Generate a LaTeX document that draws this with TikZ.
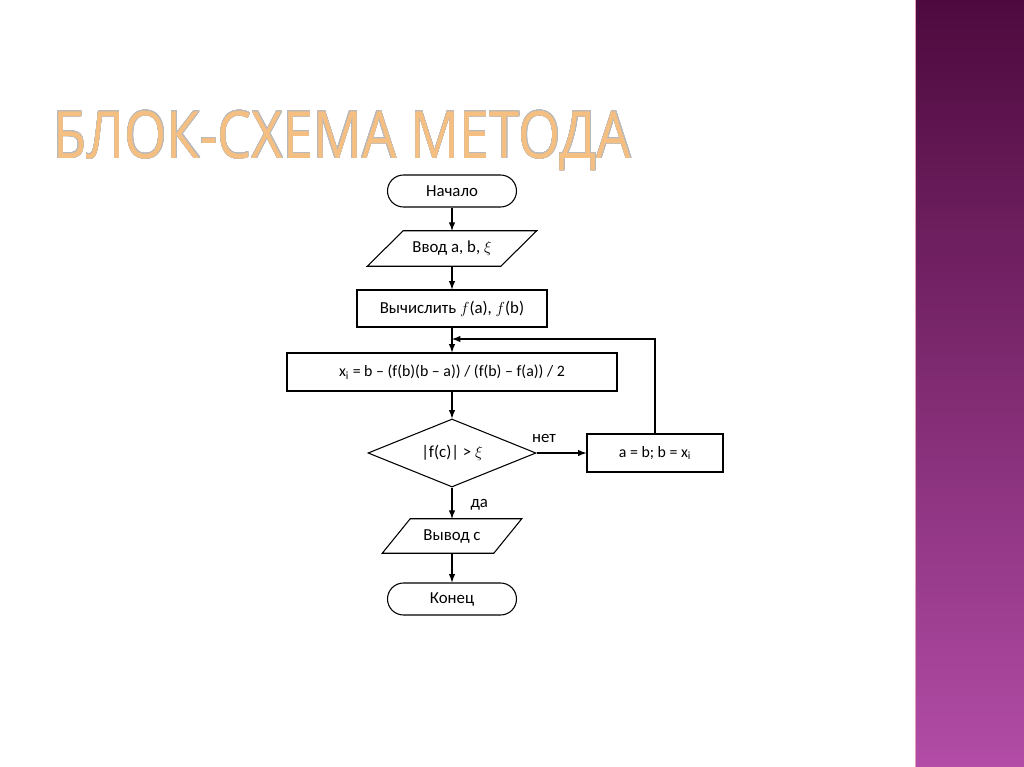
\documentclass[tikz,border=0pt]{standalone}
\usepackage{fontspec}
\setmainfont{Carlito}
\newfontfamily\titlefont[FakeStretch=0.83]{Open Sans}
\usepackage{contour}
\usetikzlibrary{arrows,shapes.geometric,shapes.misc,positioning}
\newcommand{\pxunit}{0.75pt}
\newcommand{\ioframe}[2]{%
  \draw[framesty] ([xshift=#2*\pxunit]#1.north west) -- ([xshift=#2*\pxunit]#1.north east)
    -- ([xshift=-#2*\pxunit]#1.south east) -- ([xshift=-#2*\pxunit]#1.south west) -- cycle;}
\tikzset{
    framesty/.style={line width=0.8pt},
    termsty/.style={draw,framesty,rounded rectangle,minimum width=129*\pxunit,minimum height=32*\pxunit,inner sep=0pt},
    procsty/.style={draw,framesty,rectangle,minimum height=37*\pxunit,inner sep=0pt},
    iosty/.style={rectangle,minimum height=35*\pxunit,inner sep=0pt},
    decsty/.style={draw,framesty,diamond,shape aspect=2.5,minimum width=168*\pxunit,minimum height=68*\pxunit,inner sep=0pt},
    flowsty/.style={->,line width=1.15pt},
    txtsty/.style={font=\fontsize{12.6}{15}\selectfont},
    smallsty/.style={font=\fontsize{11.9}{14}\selectfont},
}
\definecolor{stripdark}{HTML}{4E0A3E}
\definecolor{striplight}{HTML}{B24CA6}
\definecolor{titleorange}{HTML}{F6BF82}
\contourlength{0.3pt}
\contournumber{24}

\begin{document}
\begin{tikzpicture}[>=latex, x=\pxunit, y=-\pxunit]
  \useasboundingbox (0,0) rectangle (1024,767);
  % side strip
  \shade[top color=stripdark, bottom color=striplight] (915,0) rectangle (1024,767);
  \draw[pink!70!striplight, line width=1pt] (915.5,0) -- (915.5,767);

  % title
  \node[anchor=base west, inner sep=0pt, text=titleorange] (title) at (53,158)
    {\titlefont\fontsize{49}{50}\selectfont\contour{gray!55}{БЛОК-СХЕМА МЕТОДА}};

  % flowchart
  \node[termsty, txtsty] (start) at (452,191) {Начало};
  \node[iosty, txtsty, minimum width=133*\pxunit] (input) at (452,248.5) {Ввод a, b, $\xi$};
  \ioframe{input}{18}
  \node[procsty, txtsty, minimum width=190*\pxunit] (calc) at (452,308.5) {Вычислить $f$(a), $f$(b)};
  \node[procsty, smallsty, minimum width=330*\pxunit, minimum height=38*\pxunit] (iter) at (452,372)
    {x\textsubscript{i} = b – (f(b)(b – a)) / (f(b) – f(a)) / 2};
  \node[decsty, txtsty] (check) at (452,453) {|f(c)| > $\xi$};
  \node[procsty, smallsty, minimum width=136*\pxunit, minimum height=38*\pxunit] (upd) at (655,453)
    {a = b; b = x\textsubscript{i}};
  \node[iosty, txtsty, minimum width=111*\pxunit, minimum height=34*\pxunit] (output) at (452,536) {Вывод c};
  \ioframe{output}{14}
  \node[termsty, txtsty] (finish) at (452,599) {Конец};

  \coordinate (loopjoin) at (452,339);

  \draw[flowsty] (start.south) -- (input.north);
  \draw[flowsty] (input.south) -- (calc.north);
  \draw[flowsty] (calc.south) -- (iter.north);
  \draw[flowsty] (iter.south) -- (check.north);
  \draw[flowsty] (check.east) -- (upd.west) node[pos=0.15, above=7pt, txtsty, inner sep=0pt] {нет};
  \draw[flowsty] (upd.north) |- (loopjoin);
  \draw[flowsty] (check.south) -- (output.north) node[pos=0.55, right=10pt, txtsty] {да};
  \draw[flowsty] (output.south) -- (finish.north);
\end{tikzpicture}
\end{document}
